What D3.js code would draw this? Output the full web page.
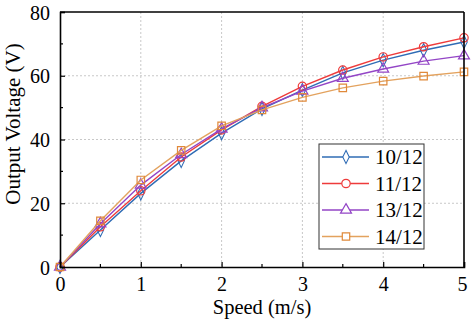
<!DOCTYPE html>
<html>
<head>
<meta charset="utf-8">
<script src="https://cdn.jsdelivr.net/npm/d3@7"></script>
<style>
  body { margin: 0; background: #fff; }
  svg { display: block; }
  svg text { font-family: "Liberation Serif", "DejaVu Serif", serif; fill: #000; }
</style>
</head>
<body>
<div id="chart"></div>
<script>
// speed samples (m/s)
const speeds = [0, 0.5, 1, 1.5, 2, 2.5, 3, 3.5, 4, 4.5, 5];
const seriesNames = ['10/12', '11/12', '13/12', '14/12'];
// output voltage (V) per series
const v10 = [0, 11.6, 23.1, 33.3, 42.0, 49.6, 55.5, 60.9, 64.9, 68.0, 70.6];
const v11 = [0, 12.6, 23.9, 34.5, 43.0, 50.4, 56.7, 61.8, 65.9, 69.1, 71.9];
const v13 = [0, 13.6, 25.7, 35.3, 43.3, 50.0, 55.2, 59.2, 62.1, 64.6, 66.3];
const v14 = [0, 14.5, 27.3, 36.6, 44.3, 49.3, 53.2, 56.2, 58.3, 59.9, 61.2];
const xTicks = [0, 1, 2, 3, 4, 5];
const yTicks = [0, 20, 40, 60, 80];

const colors = ['#2f6cb5', '#ee3b3b', '#9345c6', '#e0893a'];
const lineColors = ['#2f6cb5', '#ee3b3b', '#9345c6', '#e3a25e'];
const symbols = [d3.symbolDiamond, d3.symbolCircle, d3.symbolTriangle, d3.symbolSquare];
const symSizes = [50, 55, 52, 55];

const svgWidth = 471, svgHeight = 321;
const margin = { top: 12, right: 7, bottom: 54, left: 60 };
const width = svgWidth - margin.left - margin.right;
const height = svgHeight - margin.top - margin.bottom;

const svg = d3.select('#chart').append('svg')
  .attr('width', svgWidth)
  .attr('height', svgHeight);
const g = svg.append('g').attr('transform', `translate(${margin.left},${margin.top})`);

const x = d3.scaleLinear().domain([0, 5]).range([0, width]);
const y = d3.scaleLinear().domain([0, 80]).range([height, 0]);

// dashed grid at major ticks
g.append('g').selectAll('line').data(xTicks.slice(1, -1)).join('line')
  .attr('x1', d => x(d)).attr('x2', d => x(d)).attr('y1', 0).attr('y2', height)
  .attr('stroke', '#c8c8c8').attr('stroke-width', 1).attr('stroke-dasharray', '2,2');
g.append('g').selectAll('line').data(yTicks.slice(1, -1)).join('line')
  .attr('y1', d => y(d)).attr('y2', d => y(d)).attr('x1', 0).attr('x2', width)
  .attr('stroke', '#c8c8c8').attr('stroke-width', 1).attr('stroke-dasharray', '2,2');

// series
const series = [v10, v11, v13, v14];
const line = d3.line().x((d, i) => x(speeds[i])).y(d => y(d));
series.forEach((vals, k) => {
  const s = g.append('g');
  s.append('path').datum(vals)
    .attr('d', line).attr('fill', 'none')
    .attr('stroke', lineColors[k]).attr('stroke-width', 1.4);
  s.selectAll('path.pt').data(vals).join('path')
    .attr('class', 'pt')
    .attr('transform', (d, i) => `translate(${x(speeds[i])},${y(d)})${k === 0 ? ' scale(0.85,1)' : ''}`)
    .attr('d', d3.symbol().type(symbols[k]).size(symSizes[k]))
    .attr('fill', 'none').attr('stroke', colors[k]).attr('stroke-width', 1.2);
});

// axes (ticks pointing inward)
const xAxis = d3.axisBottom(x).tickValues(xTicks).tickSize(-5).tickPadding(10).tickFormat(d3.format('d'));
const yAxis = d3.axisLeft(y).tickValues(yTicks).tickSize(-5).tickPadding(10);
const gx = g.append('g').attr('transform', `translate(0,${height})`).call(xAxis);
const gy = g.append('g').call(yAxis);
// minor ticks
gx.append('g').selectAll('line').data(d3.range(0.5, 5, 1)).join('line')
  .attr('x1', d => x(d)).attr('x2', d => x(d)).attr('y1', 0).attr('y2', -3)
  .attr('stroke', '#000').attr('stroke-width', 1.2);
gy.append('g').selectAll('line').data(d3.range(10, 80, 20)).join('line')
  .attr('y1', d => y(d)).attr('y2', d => y(d)).attr('x1', 0).attr('x2', 3)
  .attr('stroke', '#000').attr('stroke-width', 1.2);
[gx, gy].forEach(a => {
  a.attr('font-family', null);
  a.select('.domain').attr('stroke-width', 1.6);
  a.selectAll('.tick line').attr('stroke-width', 1.2);
  a.selectAll('.tick text').attr('font-size', 20).attr('fill', '#000');
});
gy.selectAll('.tick text').attr('dy', '0.35em');
gx.selectAll('.tick').filter(d => d === 5).select('text').attr('dx', -2);

// top and right frame
g.append('line').attr('x1', 0).attr('x2', width).attr('y1', 0).attr('y2', 0)
  .attr('stroke', '#000').attr('stroke-width', 1.6);
g.append('line').attr('x1', width).attr('x2', width).attr('y1', 0).attr('y2', height)
  .attr('stroke', '#000').attr('stroke-width', 1.6);

// axis titles
svg.append('text').attr('x', 262).attr('y', 314)
  .attr('text-anchor', 'middle').attr('font-size', 20.5).text('Speed (m/s)');
svg.append('text').attr('transform', 'translate(20,124) rotate(-90)')
  .attr('text-anchor', 'middle').attr('font-size', 21).text('Output Voltage (V)');

// legend
const legend = svg.append('g').attr('transform', 'translate(319,144)');
legend.append('rect').attr('width', 105).attr('height', 105)
  .attr('fill', '#fff').attr('stroke', '#333').attr('stroke-width', 1);
seriesNames.forEach((name, k) => {
  const ly = 13 + k * 26.5;
  legend.append('line').attr('x1', 3).attr('x2', 50).attr('y1', ly).attr('y2', ly)
    .attr('stroke', lineColors[k]).attr('stroke-width', 1.4);
  legend.append('path')
    .attr('transform', `translate(27,${ly})${k === 0 ? ' scale(0.85,1)' : ''}`)
    .attr('d', d3.symbol().type(symbols[k]).size(symSizes[k]))
    .attr('fill', '#fff').attr('stroke', colors[k]).attr('stroke-width', 1.2);
  legend.append('text').attr('x', 56).attr('y', ly).attr('dy', '0.35em')
    .attr('font-size', 21).text(name);
});
</script>
</body>
</html>
